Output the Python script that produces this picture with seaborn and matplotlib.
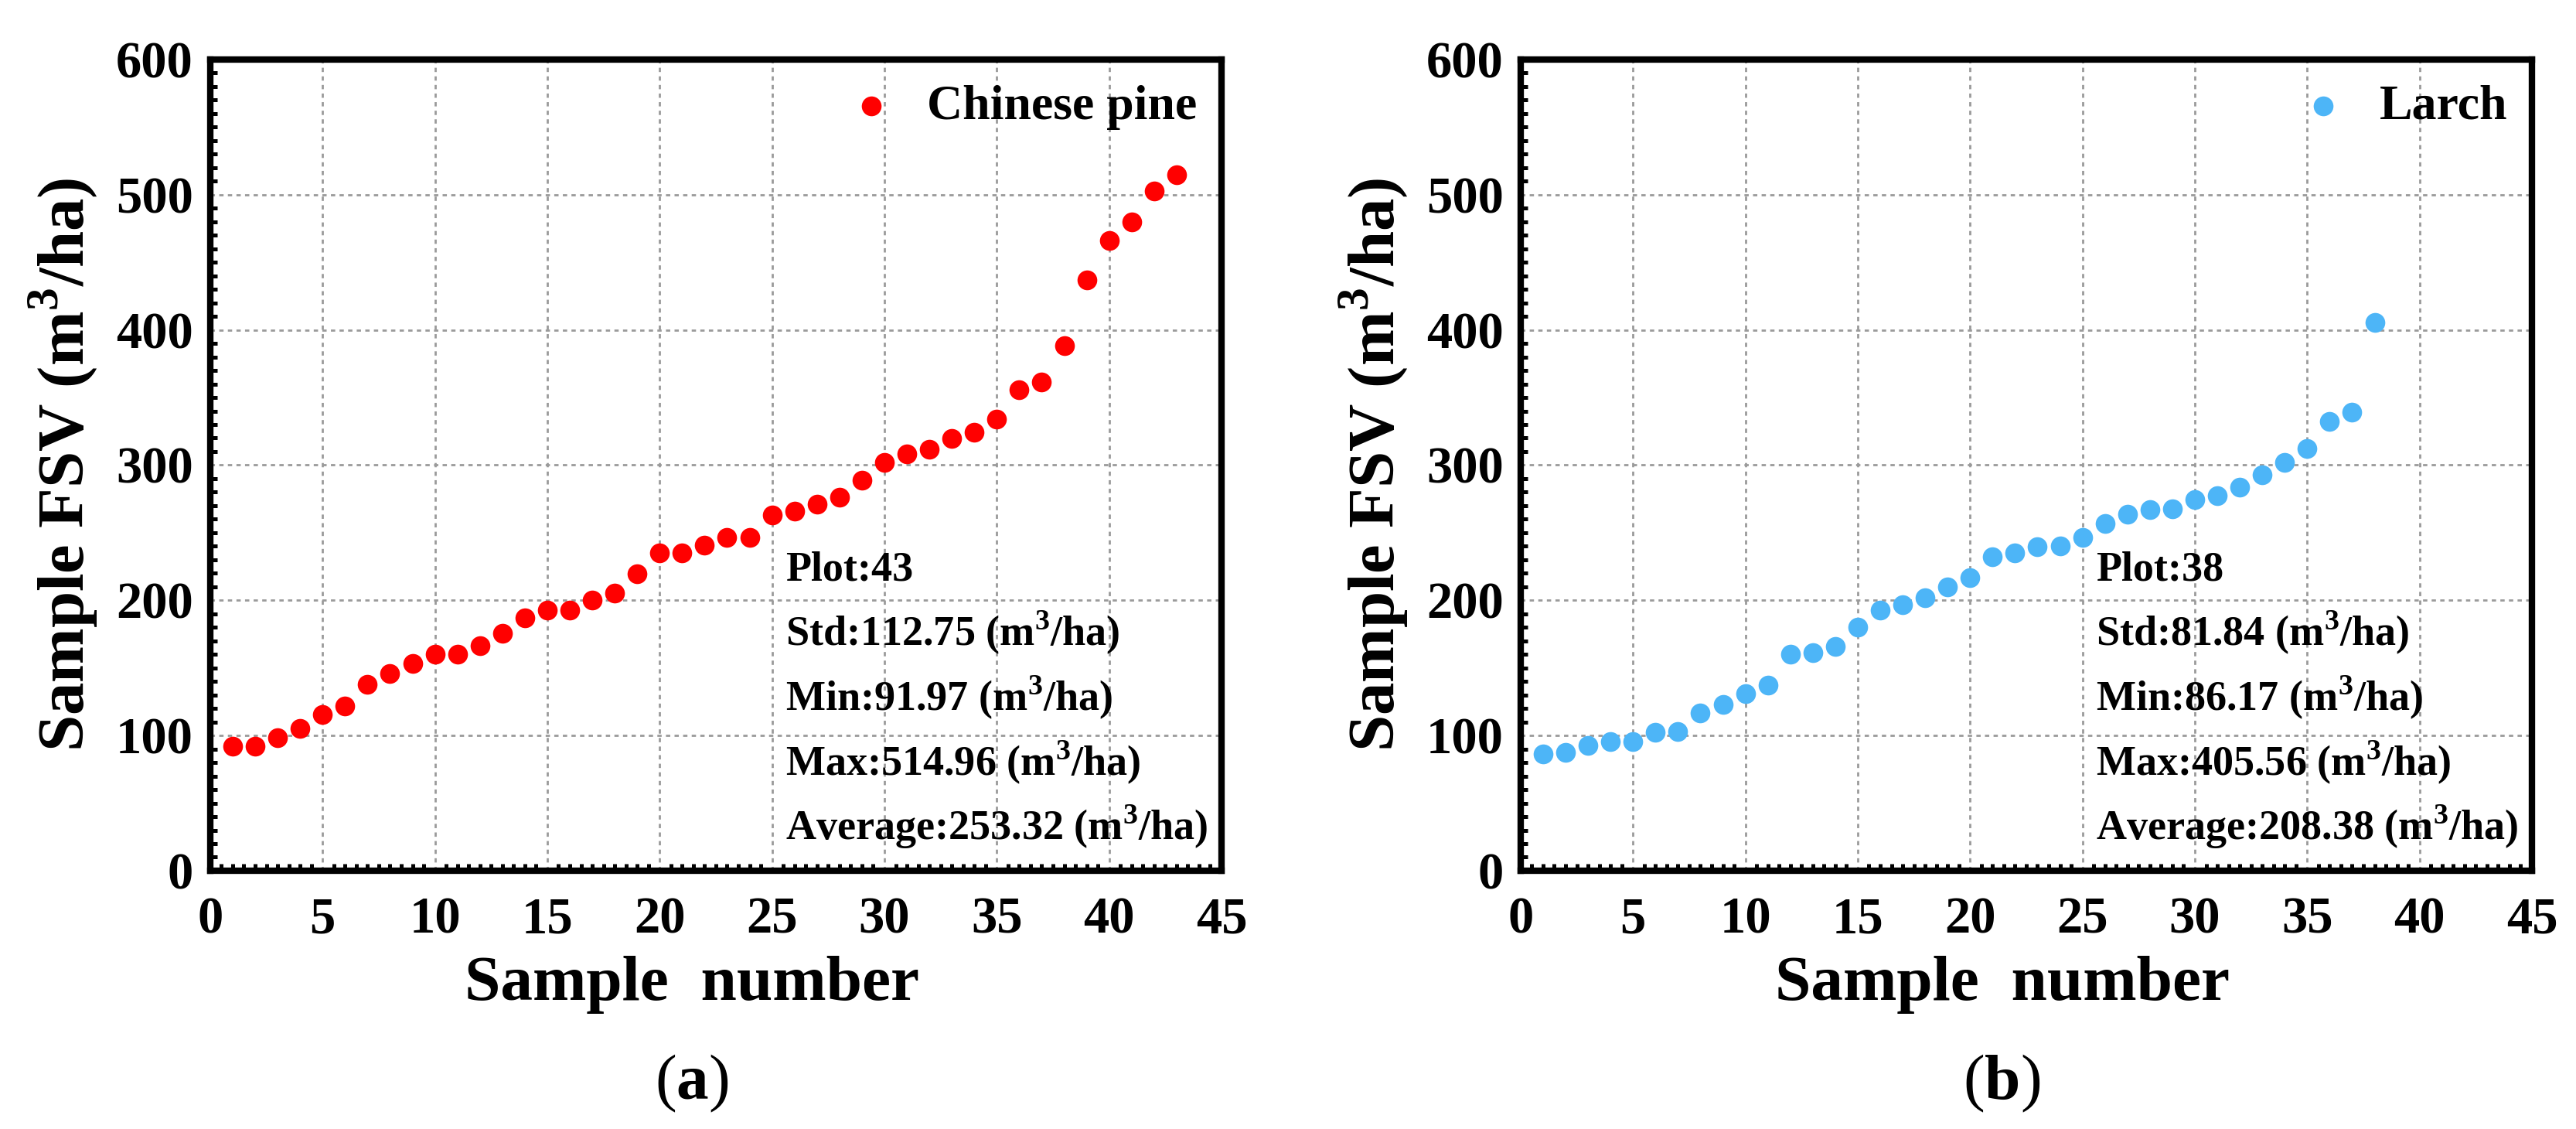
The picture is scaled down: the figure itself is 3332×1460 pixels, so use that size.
import numpy as np
import pandas as pd
import seaborn as sns
import matplotlib.pyplot as plt
from matplotlib.ticker import MultipleLocator

# sample FSV values (m3/ha), sorted
pine_fsv = [92.0, 92.3, 98.5, 105.5, 115.5, 122.0, 138.0, 146.0, 153.0, 160.0,
            160.0, 166.5, 175.5, 187.0, 192.5, 192.5, 200.0, 205.5, 219.5, 235.0,
            235.0, 241.0, 246.5, 246.5, 263.0, 266.0, 271.0, 276.0, 289.0, 302.0,
            308.0, 311.5, 319.5, 324.0, 334.0, 356.0, 361.5, 388.5, 437.0, 466.0,
            480.0, 502.5, 514.96]
larch_fsv = [86.17, 87.4, 92.8, 95.4, 95.4, 102.3, 103.2, 116.6, 123.2, 131.0,
             137.0, 160.0, 161.0, 166.0, 180.4, 192.8, 197.0, 202.0, 210.0, 217.0,
             232.0, 235.0, 239.4, 240.4, 246.5, 256.6, 263.6, 267.0, 267.6, 274.7,
             277.5, 283.6, 293.0, 302.0, 312.0, 332.0, 339.0, 405.56]

species = ["Chinese pine", "Larch"]
colors = ["#ff0000", "#4db5f7"]
panel_tags = ["a", "b"]
stat_names = ["Std", "Min", "Max", "Average"]
pine_stats = [112.75, 91.97, 514.96, 253.32]
larch_stats = [81.84, 86.17, 405.56, 208.38]

sns.set_style("white")
plt.rcParams["font.family"] = ["Liberation Serif", "DejaVu Serif"]
plt.rcParams["font.weight"] = "bold"
plt.rcParams["mathtext.fontset"] = "custom"
plt.rcParams["mathtext.rm"] = "Liberation Serif"
plt.rcParams["mathtext.bf"] = "Liberation Serif:bold"
# seaborn's style greys the text; the original is pure black
for key in ["text.color", "axes.labelcolor", "xtick.color", "ytick.color",
            "axes.edgecolor"]:
    plt.rcParams[key] = "black"

unit = r"(m$^{\mathbf{3}}$/ha)"

fig = plt.figure(figsize=(16.66, 7.3), dpi=200)
ax1 = fig.add_axes([0.0816, 0.2288, 0.3926, 0.7185])
ax2 = fig.add_axes([0.5903, 0.2288, 0.3926, 0.7185])

for ax, vals, name, col, tag, stats in zip(
        [ax1, ax2], [pine_fsv, larch_fsv], species, colors, panel_tags,
        [pine_stats, larch_stats]):
    df = pd.DataFrame({"Sample number": np.arange(1, len(vals) + 1), "FSV": vals})
    sns.scatterplot(data=df, x="Sample number", y="FSV", ax=ax, color=col,
                    s=85, linewidth=0, label=name, zorder=3)
    ax.set_xlim(0, 45)
    ax.set_ylim(0, 600)
    ax.xaxis.set_major_locator(MultipleLocator(5))
    ax.xaxis.set_minor_locator(MultipleLocator(0.5))
    ax.yaxis.set_major_locator(MultipleLocator(100))
    ax.yaxis.set_minor_locator(MultipleLocator(10))
    ax.grid(True, which="major", color="#9a9a9a", linestyle=(0, (2, 2)), linewidth=1.0)
    ax.set_axisbelow(True)
    for sp in ax.spines.values():
        sp.set_linewidth(3)
        sp.set_color("black")
    ax.tick_params(which="major", direction="in", length=6, width=2.6,
                   labelsize=24, top=False, right=False, colors="black")
    ax.tick_params(axis="x", which="major", pad=12)
    ax.tick_params(axis="y", which="major", pad=8)
    ax.tick_params(which="minor", direction="in", length=3.2, width=1.8,
                   top=False, right=False, bottom=True, left=True, colors="black")
    ax.set_xlabel("Sample  number", fontsize=30, fontweight="bold")
    ax.xaxis.set_label_coords(0.476, -0.105)
    ax.set_ylabel("Sample FSV " + unit, fontsize=30.5, fontweight="bold", labelpad=8)

    ax.legend(loc="upper right", frameon=False, fontsize=23, handlelength=1.0,
              handletextpad=0.63, borderaxespad=0.15, borderpad=0.35)

    ax.text(25.6, 215, "Plot:%d" % len(vals), fontsize=19.5, fontweight="bold")
    for i, (nm, v) in enumerate(zip(stat_names, stats)):
        ax.text(25.6, 167 - 48 * i, "%s:%.2f %s" % (nm, v, unit),
                fontsize=19.5, fontweight="bold")

    pos = ax.get_position()
    fig.text(pos.x0 + 0.476 * pos.width, 0.04, r"($\mathbf{%s}$)" % tag,
             fontsize=30, fontweight="normal", ha="center", va="center")

fig.savefig("out.png", dpi=200)
